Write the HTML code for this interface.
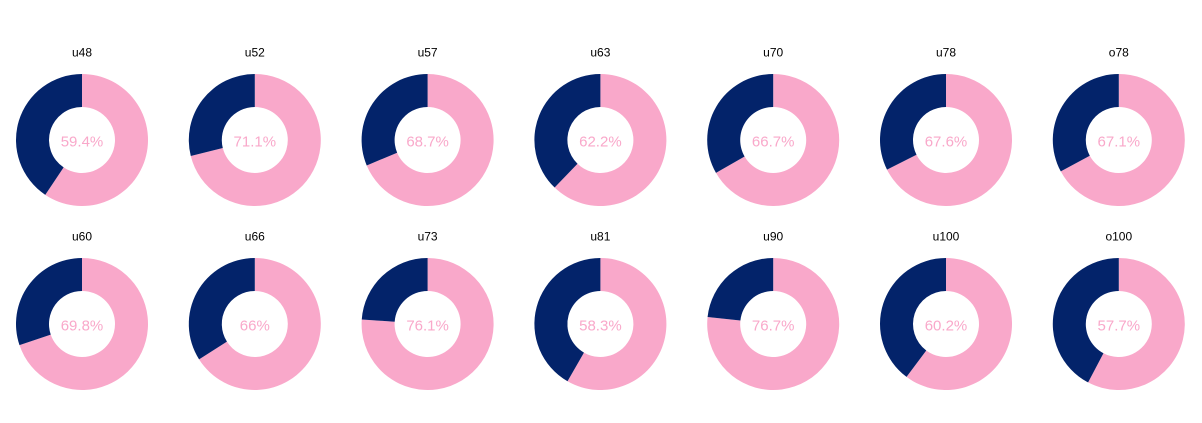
<!DOCTYPE html>
<html><head><meta charset="utf-8"><style>
body{margin:0;background:#fff;}
svg{display:block;font-family:"Liberation Sans",Arial,sans-serif;}
</style></head><body>
<svg id="chart" width="1202" height="423"></svg>
<script>
const labels = ["u48","u52","u57","u63","u70","u78","o78","u60","u66","u73","u81","u90","u100","o100"];
const values = [59.4,71.1,68.7,62.2,66.7,67.6,67.1,69.8,66,76.1,58.3,76.7,60.2,57.7];
const svg = document.getElementById('chart');
const NS = 'http://www.w3.org/2000/svg';
const x0 = 82, dx = 172.8, y0 = 140, dy = 184, R = 66, r = 33;
function pt(cx, cy, rad, frac){const a = frac*2*Math.PI; return [cx+rad*Math.sin(a), cy-rad*Math.cos(a)];}
function arc(cx, cy, f0, f1){
  const large = (f1-f0) > 0.5 ? 1 : 0;
  const [a,b]=pt(cx,cy,R,f0),[c,d]=pt(cx,cy,R,f1),[e,f]=pt(cx,cy,r,f1),[g,h]=pt(cx,cy,r,f0);
  return `M${a},${b}A${R},${R} 0 ${large} 1 ${c},${d}L${e},${f}A${r},${r} 0 ${large} 0 ${g},${h}Z`;
}
labels.forEach((lab,i)=>{
  const col = i%7, row = Math.floor(i/7);
  const cx = x0+col*dx, cy = y0+row*dy;
  const v = values[i]/100;
  const g = document.createElementNS(NS,'g');
  
  
  const p1 = document.createElementNS(NS,'path');
  p1.setAttribute('d', arc(cx,cy,0,v));
  p1.setAttribute('fill','#f9a8ca');
  
  
  const p2 = document.createElementNS(NS,'path');
  p2.setAttribute('d', arc(cx,cy,v,1));
  p2.setAttribute('fill','#03236a');
  
  
  const t = document.createElementNS(NS,'text');
  t.setAttribute('x',cx); t.setAttribute('y',cy-83.5);
  t.setAttribute('text-anchor','middle'); t.setAttribute('font-size','12'); t.setAttribute('fill','#000');
  t.textContent = lab;
  
  
  const pv = document.createElementNS(NS,'text');
  pv.setAttribute('x',cx); pv.setAttribute('y',cy+6.5);
  pv.setAttribute('text-anchor','middle'); pv.setAttribute('font-size','15'); pv.setAttribute('fill','#f9a8ca');
  pv.textContent = values[i]+'%';
  
  
  g.append(p1,p2,t,pv);
  svg.appendChild(g);
});
</script>
</body></html>
